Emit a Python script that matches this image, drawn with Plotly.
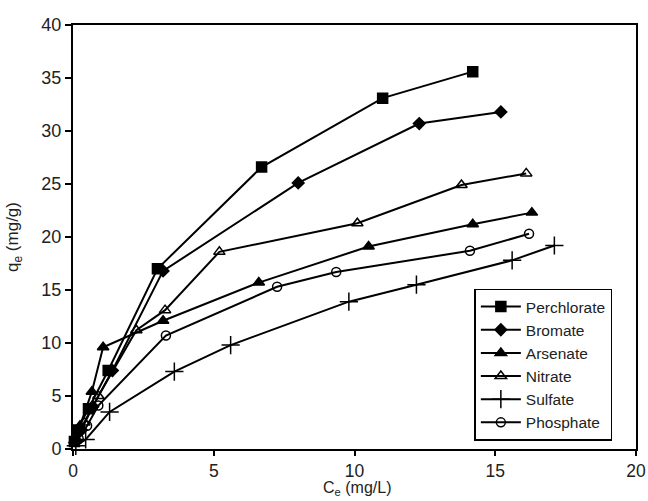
import plotly.graph_objects as go

perchlorate_x = [0.05, 0.15, 0.55, 1.25, 3.0, 6.7, 11.0, 14.2]
perchlorate_y = [0.7, 1.8, 3.8, 7.4, 17.0, 26.6, 33.1, 35.6]

bromate_x = [0.1, 0.3, 0.7, 1.4, 3.2, 8.0, 12.3, 15.2]
bromate_y = [0.8, 1.8, 4.0, 7.4, 16.8, 25.1, 30.7, 31.8]

arsenate_x = [0.05, 0.25, 0.67, 1.07, 3.2, 6.6, 10.5, 14.2, 16.3]
arsenate_y = [0.8, 2.2, 5.4, 9.6, 12.1, 15.7, 19.1, 21.2, 22.3]

nitrate_x = [0.1, 0.4, 0.9, 2.25, 3.27, 5.2, 10.1, 13.8, 16.1]
nitrate_y = [0.8, 2.5, 5.0, 11.2, 13.1, 18.6, 21.3, 24.9, 26.0]

sulfate_x = [0.1, 0.45, 1.3, 3.6, 5.6, 9.8, 12.2, 15.6, 17.1]
sulfate_y = [0.3, 0.9, 3.5, 7.3, 9.8, 13.9, 15.5, 17.8, 19.2]

phosphate_x = [0.2, 0.5, 0.9, 3.3, 7.25, 9.35, 14.1, 16.2]
phosphate_y = [1.0, 2.2, 4.1, 10.7, 15.3, 16.7, 18.7, 20.3]

series = [
    ("Perchlorate", perchlorate_x, perchlorate_y, "square", 10, "black"),
    ("Bromate", bromate_x, bromate_y, "diamond", 9, "black"),
    ("Arsenate", arsenate_x, arsenate_y, "triangle-up", 10, "black"),
    ("Nitrate", nitrate_x, nitrate_y, "triangle-up-open", 10, "black"),
    ("Sulfate", sulfate_x, sulfate_y, "cross-thin-open", 13, "black"),
    ("Phosphate", phosphate_x, phosphate_y, "circle-open", 9, "black"),
]

fig = go.Figure()
for name, xs, ys, sym, size, col in series:
    fig.add_trace(go.Scatter(
        x=xs, y=ys, name=name, mode="lines+markers",
        line=dict(color="black", width=2),
        marker=dict(symbol=sym, size=size, color=col,
                    line=dict(color="black", width=1.5)),
        cliponaxis=False,
    ))

font_family = "Liberation Sans, Arial, Helvetica, sans-serif"
fig.update_layout(
    width=648, height=501,
    margin=dict(l=73, r=12, t=25, b=52),
    paper_bgcolor="white", plot_bgcolor="white",
    font=dict(family=font_family, size=18, color="#222"),
    showlegend=True,
    legend=dict(
        x=0.958, y=0.02, xanchor="right", yanchor="bottom",
        bordercolor="black", borderwidth=1.5, bgcolor="white",
        font=dict(size=15.5, color="#222"),
        tracegroupgap=0, itemwidth=40,
    ),
    annotations=[dict(
        text="C<sub>e</sub> (mg/L)", x=0.504, y=0, xref="paper", yref="paper",
        xanchor="center", yanchor="top", yshift=-29, showarrow=False,
        font=dict(size=16, color="#222"), borderpad=0,
    )],
)
fig.update_xaxes(
    range=[0, 20], dtick=5, tick0=0, automargin=False,
    showgrid=False, zeroline=False,
    showline=True, linecolor="black", linewidth=2, mirror=True,
    ticks="outside", ticklen=5, tickwidth=1.5, tickcolor="black",
    tickfont=dict(size=17.5),
)
fig.update_yaxes(
    range=[0, 40], dtick=5, tick0=0, automargin=False,
    showgrid=False, zeroline=False,
    showline=True, linecolor="black", linewidth=2, mirror=True,
    ticks="outside", ticklen=6, tickwidth=1.5, tickcolor="black",
    tickfont=dict(size=18),
    title=dict(text="q<sub>e</sub> (mg/g)", font=dict(size=17), standoff=18),
)

fig.write_html("out.html")
